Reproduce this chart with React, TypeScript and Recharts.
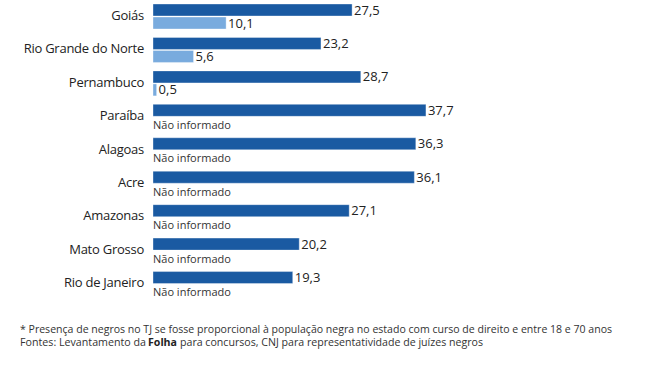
import React from 'react';
import { BarChart, Bar, XAxis, YAxis, LabelList } from 'recharts';

const states = ['Goiás', 'Rio Grande do Norte', 'Pernambuco', 'Paraíba', 'Alagoas', 'Acre', 'Amazonas', 'Mato Grosso', 'Rio de Janeiro'];
const expected = [27.5, 23.2, 28.7, 37.7, 36.3, 36.1, 27.1, 20.2, 19.3];
const actual: (number | null)[] = [10.1, 5.6, 0.5, null, null, null, null, null, null];

const DARK = '#1a5aa2';
const LIGHT = '#79abde';
const FONT = '"Open Sans", "Noto Sans", sans-serif';

const data = states.map((name, i) => ({
  name,
  expected: expected[i],
  actual: actual[i] ?? 0,
  missing: actual[i] === null,
}));

const fmt = (v: number) => v.toFixed(1).replace('.', ',');

const StateTick = (props: any) => {
  const { x, y, payload } = props;
  return (
    <text x={x} y={y} dy={3} textAnchor="end" fontSize={13} letterSpacing={-0.25} fill="#222" fontFamily={FONT}>
      {payload.value}
    </text>
  );
};

// value label for the dark bar, plus "Não informado" under it when the second value is missing
const ExpectedLabel = (props: any) => {
  const { x, y, width, height, value, index } = props;
  return (
    <g>
      <text x={x + width + 2} y={y + height / 2 + 4.5} fontSize={13} fill="#222" fontFamily={FONT}>
        {fmt(value)}
      </text>
      {data[index].missing && (
        <text x={x} y={y + height + 12.5} fontSize={11} fill="#333" fontFamily={FONT}>
          Não informado
        </text>
      )}
    </g>
  );
};

const ActualLabel = (props: any) => {
  const { x, y, width, height, value, index } = props;
  if (data[index].missing) return null;
  return (
    <text x={x + width + 2} y={y + height / 2 + 4.5} fontSize={13} fill="#222" fontFamily={FONT}>
      {fmt(value)}
    </text>
  );
};

export default function App() {
  return (
    <div style={{ position: 'absolute', left: 0, top: 0, width: 664, height: 385, background: '#fff' }}>
      <BarChart
        width={664}
        height={301}
        data={data}
        layout="vertical"
        margin={{ top: 0, right: 149, left: 0, bottom: 0 }}
        barSize={12}
        barGap={1}
      >
        <XAxis type="number" domain={[0, 50]} hide />
        <YAxis
          type="category"
          dataKey="name"
          width={153}
          axisLine={false}
          tickLine={false}
          tick={<StateTick />}
          tickMargin={3}
        />
        <Bar dataKey="expected" fill={DARK} stroke="rgba(255,255,255,0.35)" isAnimationActive={false}>
          <LabelList dataKey="expected" content={<ExpectedLabel />} />
        </Bar>
        <Bar dataKey="actual" fill={LIGHT} stroke="rgba(255,255,255,0.35)" isAnimationActive={false}>
          <LabelList dataKey="actual" content={<ActualLabel />} />
        </Bar>
      </BarChart>
      <svg width={664} height={60} style={{ position: 'absolute', left: 0, top: 318 }}>
        <text x={20} y={15} fontSize={11} fill="#333" fontFamily={FONT} textLength={592} lengthAdjust="spacingAndGlyphs">
          * Presença de negros no TJ se fosse proporcional à população negra no estado com curso de direito e entre 18 e 70 anos
        </text>
        <text x={20} y={28} fontSize={11} fill="#333" fontFamily={FONT} textLength={126} lengthAdjust="spacingAndGlyphs">
          Fontes: Levantamento da
        </text>
        <text x={148} y={28} fontSize={11} fontWeight="bold" fill="#222" fontFamily={FONT} textLength={29} lengthAdjust="spacingAndGlyphs">
          Folha
        </text>
        <text x={180} y={28} fontSize={11} fill="#333" fontFamily={FONT} textLength={303} lengthAdjust="spacingAndGlyphs">
          para concursos, CNJ para representatividade de juízes negros
        </text>
      </svg>
    </div>
  );
}
